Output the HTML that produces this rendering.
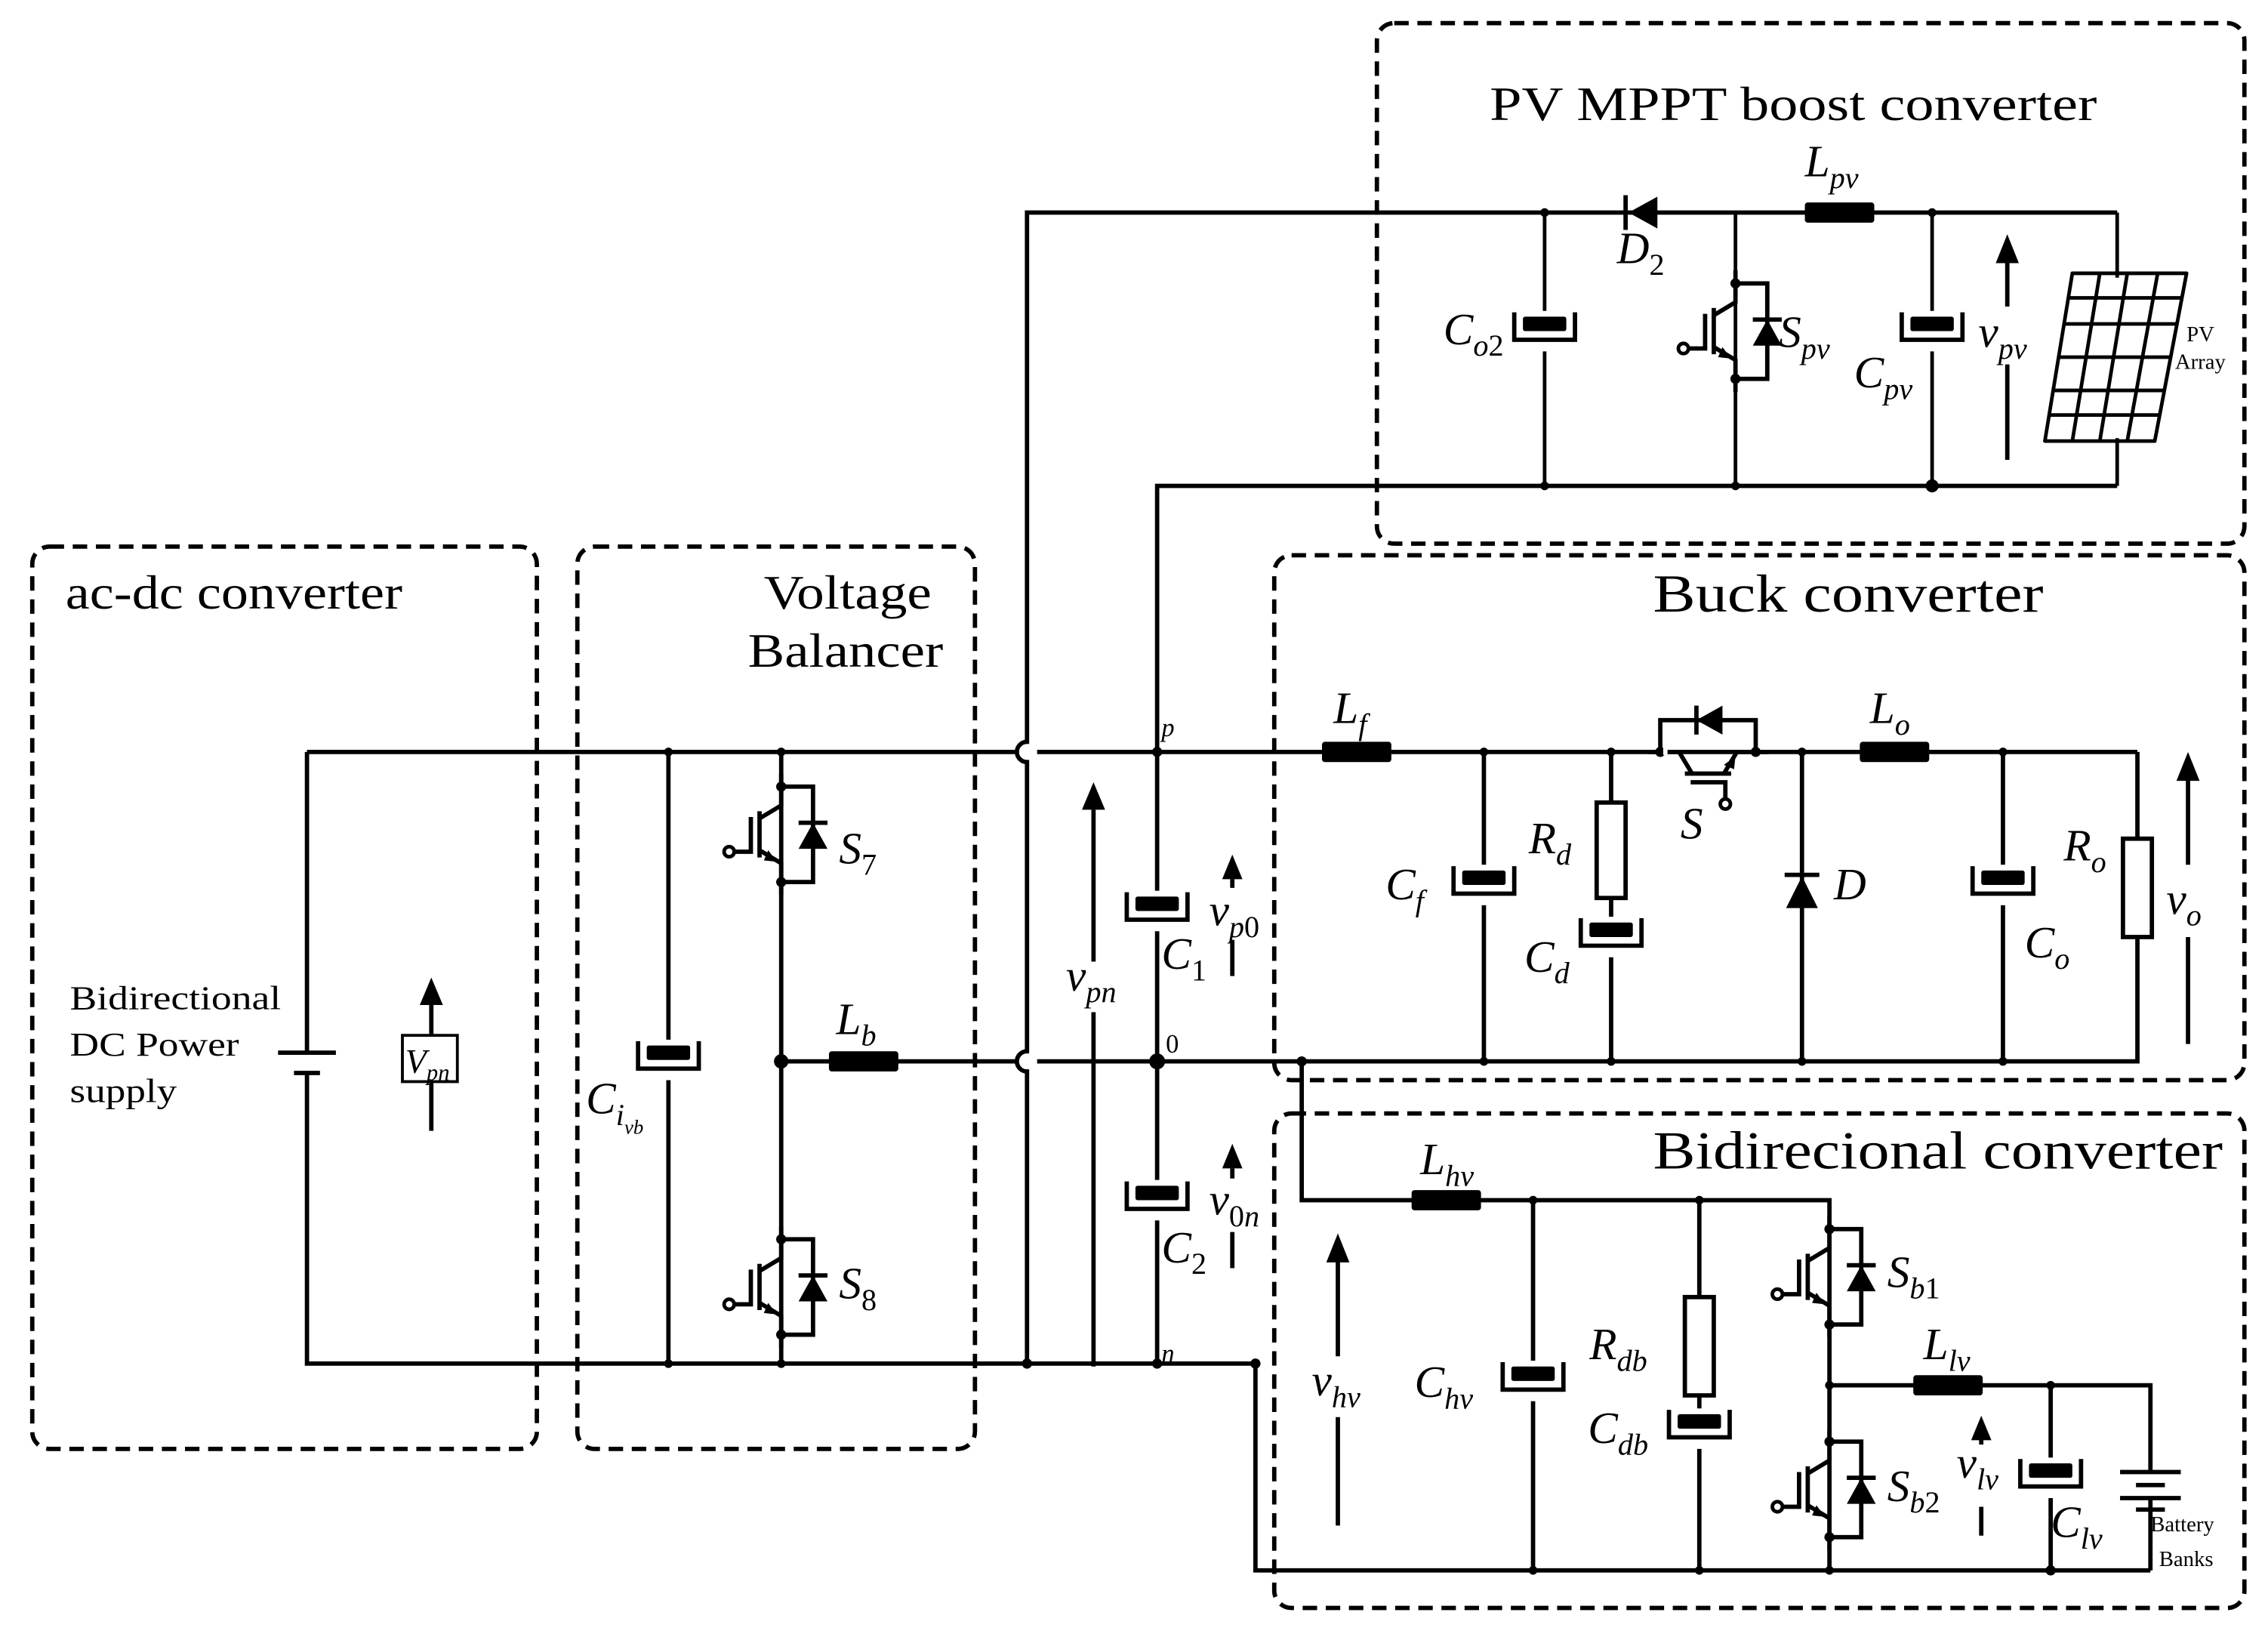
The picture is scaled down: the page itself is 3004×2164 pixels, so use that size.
<!DOCTYPE html>
<html><head><meta charset="utf-8"><style>
html,body{margin:0;padding:0;background:#fff;}
svg{display:block;}
text{font-family:"Liberation Serif",serif;fill:#000;}
.i{font-style:italic;}
</style></head><body>
<svg width="3004" height="2164" viewBox="0 0 1568 1130" xmlns="http://www.w3.org/2000/svg">
<defs>
<g id="igbt">
<path d="M0,-42 V-20 L-15,-11 M-15,11 L0,20 V42" fill="none" stroke="#000" stroke-width="3"/>
<path d="M-15,-16 V16" stroke="#000" stroke-width="3"/>
<path d="M-21,-12 V12 H-33" fill="none" stroke="#000" stroke-width="3"/>
<circle cx="-36" cy="12" r="3.5" fill="#fff" stroke="#000" stroke-width="2.5"/>
<polygon points="-3,19 -9,11 -12,18" fill="#000"/>
<path d="M0,-33 H22 V33 H0" fill="none" stroke="#000" stroke-width="3"/>
<polygon points="12,10 32,10 22,-8" fill="#000"/>
<path d="M12,-8 H32" stroke="#000" stroke-width="3"/>
<circle cx="0" cy="-33" r="3.5"/><circle cx="0" cy="33" r="3.5"/>
</g>
<g id="cap">
<rect x="-20" y="-14" width="40" height="28" fill="#fff"/>
<rect x="-15" y="-10" width="30" height="10" rx="1.5" fill="#000"/>
<path d="M-21,-13 V6 H21 V-13" fill="none" stroke="#000" stroke-width="3"/>
</g>
<g id="ind"><rect x="-24" y="-7" width="48" height="14" rx="2" fill="#000"/></g>
</defs>

<g fill="none" stroke="#000" stroke-width="3" stroke-dasharray="10,6">
<rect x="22" y="378" width="349" height="624" rx="12"/>
<rect x="399" y="378" width="275" height="624" rx="12"/>
<rect x="952" y="16" width="600" height="360" rx="12"/>
<rect x="881" y="384" width="671" height="363" rx="12"/>
<rect x="881" y="770" width="671" height="342" rx="12"/>
</g>

<text x="45" y="421" font-size="33" textLength="233" lengthAdjust="spacingAndGlyphs">ac-dc converter</text>
<text x="528" y="421" font-size="33" textLength="116" lengthAdjust="spacingAndGlyphs">Voltage</text>
<text x="517" y="461" font-size="33" textLength="135" lengthAdjust="spacingAndGlyphs">Balancer</text>
<text x="1030" y="83" font-size="33" textLength="420" lengthAdjust="spacingAndGlyphs">PV MPPT boost converter</text>
<text x="1143" y="423" font-size="37" textLength="270" lengthAdjust="spacingAndGlyphs">Buck converter</text>
<text x="1143" y="808" font-size="37" textLength="394" lengthAdjust="spacingAndGlyphs">Bidirecional converter</text>
<text x="48" y="698" font-size="23" textLength="146" lengthAdjust="spacingAndGlyphs">Bidirectional</text>
<text x="48" y="730" font-size="23" textLength="117" lengthAdjust="spacingAndGlyphs">DC Power</text>
<text x="48" y="762" font-size="23" textLength="74" lengthAdjust="spacingAndGlyphs">supply</text>

<g fill="none" stroke="#000" stroke-width="3">
<path d="M212,520 H703 M717,520 H1478"/>
<path d="M540,734 H703 M717,734 H1478 V520"/>
<path d="M212,520 V728 M212,742 V943 H868 V1086 H1487"/>
<path d="M710,943 V741 A7,7 0 0 1 710,727 V527 A7,7 0 0 1 710,513 V147 H1464"/>
<path d="M800,943 V336 H1464"/>
<path d="M462,520 V943 M540,520 V943"/>
<path d="M1068,147 V336 M1200,147 V336 M1336,147 V336 M1464,147 V192 M1464,303 V336" stroke-width="2.5"/>
<path d="M1026,520 V734 M1114,520 V734 M1246,520 V734 M1385,520 V734"/>
<path d="M900,734 V830 H1265 V1086 M1060,830 V1086 M1175,830 V1086 M1265,958 H1487 V1018 M1487,1036 V1086 M1418,958 V1086"/>
</g>

<path d="M192,728 H232 M203,742 H221" stroke="#000" stroke-width="3"/>
<path d="M298,695 V782" stroke="#000" stroke-width="3"/>
<polygon points="290,695 306,695 298,676" fill="#000"/>
<rect x="278" y="716" width="38" height="32" fill="#fff" stroke="#000" stroke-width="2"/>
<text x="280" y="742" font-size="24" class="i">V<tspan font-size="16" dy="5">pn</tspan></text>

<use href="#cap" x="462" y="733"/>
<use href="#cap" x="800" y="630"/>
<use href="#cap" x="800" y="830"/>
<use href="#cap" x="1068" y="229"/>
<use href="#cap" x="1336" y="229"/>
<use href="#cap" x="1026" y="612"/>
<use href="#cap" x="1114" y="648"/>
<use href="#cap" x="1385" y="612"/>
<use href="#cap" x="1060" y="955"/>
<use href="#cap" x="1175" y="988"/>
<use href="#cap" x="1418" y="1022"/>

<use href="#ind" x="597" y="734"/>
<use href="#ind" x="1272" y="147"/>
<use href="#ind" x="938" y="520"/>
<use href="#ind" x="1310" y="520"/>
<use href="#ind" x="1000" y="830"/>
<use href="#ind" x="1347" y="958"/>

<g fill="#fff" stroke="#000" stroke-width="3">
<rect x="1104" y="555" width="20" height="66"/>
<rect x="1468" y="580" width="20" height="68"/>
<rect x="1165" y="897" width="20" height="68"/>
</g>

<use href="#igbt" x="540" y="577"/>
<use href="#igbt" x="540" y="890"/>
<use href="#igbt" x="1200" y="229"/>
<use href="#igbt" x="1265" y="883"/>
<use href="#igbt" x="1265" y="1030"/>
<rect x="1148" y="505" width="64" height="13" fill="#fff"/>
<use href="#igbt" transform="translate(1181,520) rotate(-90)"/>
<rect x="1150" y="500" width="3" height="22" fill="#fff"/>

<polygon points="1146,136 1146,158 1126,147" fill="#000"/>
<path d="M1124,135 V159" stroke="#000" stroke-width="3"/>
<polygon points="1235,628 1257,628 1246,606" fill="#000"/>
<path d="M1234,605 H1258" stroke="#000" stroke-width="3"/>

<path d="M1466,1018 H1508 M1477,1027 H1497 M1466,1036 H1508 M1477,1044 H1497" stroke="#000" stroke-width="3"/>

<g fill="none" stroke="#000" stroke-width="2.5">
<path d="M1433,189 H1512 L1490,305 H1414 Z" stroke-linejoin="round"/>
<path d="M1452,189 L1433,305 M1471,189 L1452,305 M1492,189 L1471,305"/>
<path d="M1430,206 H1509 M1427,224 H1505 M1423,247 H1501 M1420,270 H1497 M1417,287 H1493"/>
</g>
<text x="1512" y="236" font-size="15">PV</text>
<text x="1504" y="255" font-size="15">Array</text>
<text x="1487" y="1059" font-size="15">Battery</text>
<text x="1493" y="1083" font-size="15">Banks</text>

<g fill="#000">
<circle cx="540" cy="734" r="5"/><circle cx="800" cy="734" r="5.5"/>
<circle cx="710" cy="943" r="3.5"/><circle cx="800" cy="943" r="3.5"/><circle cx="868" cy="943" r="3.5"/>
<circle cx="800" cy="520" r="3.5"/><circle cx="900" cy="734" r="3.5"/>
<circle cx="1068" cy="147" r="3"/><circle cx="1068" cy="336" r="3"/><circle cx="1200" cy="336" r="3"/><circle cx="1336" cy="147" r="3"/><circle cx="1336" cy="336" r="4.5"/>
<circle cx="1026" cy="520" r="3"/><circle cx="1114" cy="520" r="3"/><circle cx="1246" cy="520" r="3"/><circle cx="1385" cy="520" r="3"/>
<circle cx="1026" cy="734" r="3"/><circle cx="1114" cy="734" r="3"/><circle cx="1246" cy="734" r="3"/><circle cx="1385" cy="734" r="3"/>
<circle cx="1060" cy="830" r="3"/><circle cx="1175" cy="830" r="3"/><circle cx="1265" cy="958" r="3"/><circle cx="1418" cy="958" r="3"/>
<circle cx="1060" cy="1086" r="3"/><circle cx="1175" cy="1086" r="3"/><circle cx="1265" cy="1086" r="3"/><circle cx="1418" cy="1086" r="3.5"/>
<circle cx="462" cy="520" r="3"/><circle cx="540" cy="520" r="3"/><circle cx="462" cy="943" r="3"/><circle cx="540" cy="943" r="3"/>
</g>

<g stroke="#000" stroke-width="3">
<path d="M756,560 V665 M756,700 V945"/>
<path d="M852,608 V614 M852,650 V675"/>
<path d="M852,808 V815 M852,852 V877"/>
<path d="M1388,180 V212 M1388,252 V318"/>
<path d="M1513,538 V598 M1513,648 V722"/>
<path d="M925,872 V938 M925,980 V1055"/>
<path d="M1370,995 V999 M1370,1042 V1062"/>
</g>
<g fill="#000">
<polygon points="748,560 764,560 756,541"/>
<polygon points="845,608 859,608 852,591"/>
<polygon points="845,808 859,808 852,791"/>
<polygon points="1380,182 1396,182 1388,162"/>
<polygon points="1505,540 1521,540 1513,520"/>
<polygon points="917,873 933,873 925,853"/>
<polygon points="1363,996 1377,996 1370,979"/>
</g>

<g class="i" font-size="31">
<text x="580" y="597">S<tspan font-size="21" dy="8" font-style="normal">7</tspan></text>
<text x="580" y="898">S<tspan font-size="21" dy="8" font-style="normal">8</tspan></text>
<text x="578" y="715">L<tspan font-size="21" dy="8">b</tspan></text>
<text x="405" y="770">C<tspan font-size="21" dy="8">i</tspan><tspan font-size="14" dy="6">vb</tspan></text>
<text x="737" y="685">v<tspan font-size="21" dy="8">pn</tspan></text>
<text x="803" y="670">C<tspan font-size="21" dy="8" font-style="normal">1</tspan></text>
<text x="836" y="640">v<tspan font-size="21" dy="8">p</tspan><tspan font-size="21" font-style="normal">0</tspan></text>
<text x="803" y="873">C<tspan font-size="21" dy="8" font-style="normal">2</tspan></text>
<text x="836" y="840">v<tspan font-size="21" dy="8" font-style="normal">0</tspan><tspan font-size="21">n</tspan></text>
<text x="1118" y="182">D<tspan font-size="21" dy="8" font-style="normal">2</tspan></text>
<text x="1248" y="122">L<tspan font-size="21" dy="8">pv</tspan></text>
<text x="998" y="238">C<tspan font-size="21" dy="8">o</tspan><tspan font-size="21" font-style="normal">2</tspan></text>
<text x="1230" y="240">S<tspan font-size="21" dy="8">pv</tspan></text>
<text x="1282" y="268">C<tspan font-size="21" dy="8">pv</tspan></text>
<text x="1368" y="240">v<tspan font-size="21" dy="8">pv</tspan></text>
<text x="922" y="500">L<tspan font-size="21" dy="8">f</tspan></text>
<text x="1293" y="500">L<tspan font-size="21" dy="8">o</tspan></text>
<text x="958" y="622">C<tspan font-size="21" dy="8">f</tspan></text>
<text x="1057" y="590">R<tspan font-size="21" dy="8">d</tspan></text>
<text x="1054" y="672">C<tspan font-size="21" dy="8">d</tspan></text>
<text x="1162" y="580">S</text>
<text x="1268" y="622">D</text>
<text x="1400" y="662">C<tspan font-size="21" dy="8">o</tspan></text>
<text x="1427" y="595">R<tspan font-size="21" dy="8">o</tspan></text>
<text x="1498" y="632">v<tspan font-size="21" dy="8">o</tspan></text>
<text x="982" y="812">L<tspan font-size="21" dy="8">hv</tspan></text>
<text x="907" y="965">v<tspan font-size="21" dy="8">hv</tspan></text>
<text x="978" y="966">C<tspan font-size="21" dy="8">hv</tspan></text>
<text x="1099" y="940">R<tspan font-size="21" dy="8">db</tspan></text>
<text x="1098" y="998">C<tspan font-size="21" dy="8">db</tspan></text>
<text x="1305" y="890">S<tspan font-size="21" dy="8">b</tspan><tspan font-size="21" font-style="normal">1</tspan></text>
<text x="1305" y="1038">S<tspan font-size="21" dy="8">b</tspan><tspan font-size="21" font-style="normal">2</tspan></text>
<text x="1330" y="940">L<tspan font-size="21" dy="8">lv</tspan></text>
<text x="1353" y="1022">v<tspan font-size="21" dy="8">lv</tspan></text>
<text x="1418" y="1063">C<tspan font-size="21" dy="8">lv</tspan></text>
</g>
<g class="i" font-size="18">
<text x="803" y="509">p</text>
<text x="803" y="942">n</text>
</g>
<text x="806" y="728" font-size="18">0</text>
</svg>
</body></html>
